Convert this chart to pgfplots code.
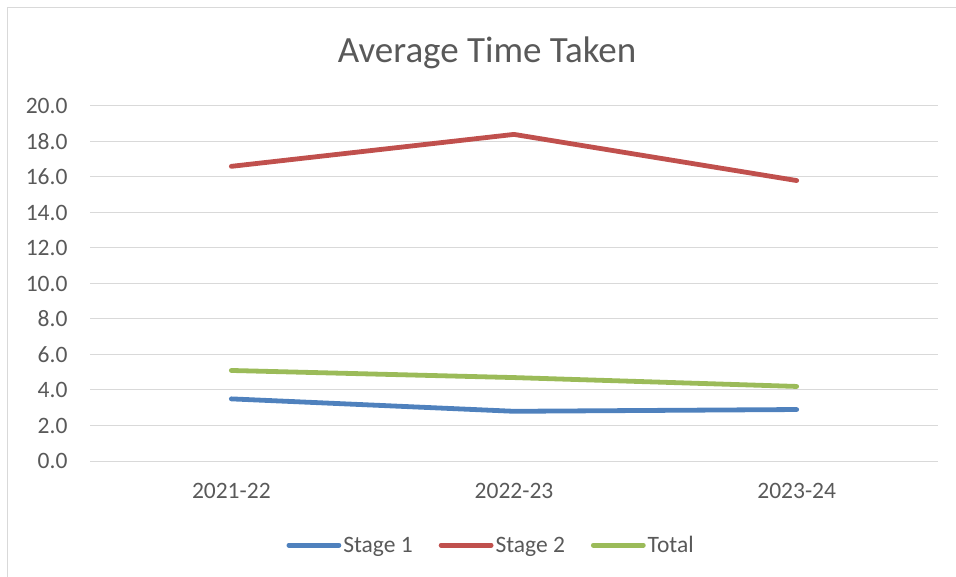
\documentclass[border=0pt]{standalone}
\usepackage{fontspec}
\setmainfont{Carlito}
\usepackage{pgfplots}
\pgfplotsset{compat=1.18}
\definecolor{sOne}{HTML}{4F81BD}
\definecolor{sTwo}{HTML}{C0504D}
\definecolor{sTot}{HTML}{9BBB59}
\definecolor{txt}{HTML}{595959}
\definecolor{grd}{HTML}{D9D9D9}
\begin{document}
\begin{tikzpicture}
\useasboundingbox (0,0) rectangle (956bp,577bp);
\draw[grd, line width=1.2bp] (7.5bp,0) -- (7.5bp,569.5bp) -- (956bp,569.5bp);
\node[text=txt, font=\fontsize{37bp}{42bp}\selectfont] at (487bp,524bp) {Average Time Taken};
\begin{axis}[
  at={(90bp,116bp)}, anchor=south west,
  scale only axis, width=848bp, height=355bp,
  xmin=-0.5, xmax=2.5, ymin=0, ymax=20,
  xtick={0,1,2}, xticklabels={2021-22,2022-23,2023-24},
  ytick={0,2,...,20},
  yticklabel={\pgfmathprintnumber[fixed,fixed zerofill,precision=1]{\tick}},
  /pgf/number format/assume math mode=true,
  axis line style={draw=none},
  axis x line*=bottom,
  major tick length=0,
  ymajorgrids, grid style={grd, line width=1bp},
  tick label style={text=txt, font=\fontsize{23.5bp}{27bp}\selectfont},
  yticklabel style={xshift=-19bp},
  xticklabel style={yshift=-19bp},
  clip=false,
  legend columns=3,
  legend style={at={(0.473,-0.237)}, anchor=center, draw=none, fill=none,
    font=\fontsize{23.5bp}{27bp}\selectfont, text=txt,
    /tikz/every even column/.append style={column sep=24bp}},
  legend image code/.code={\draw[#1, line cap=round] (0bp,0bp) -- (50bp,0bp);},
  every axis plot/.append style={line width=4.8bp, line cap=round, line join=round, mark=none},
]
\addplot[sOne] coordinates {(0,3.5) (1,2.8) (2,2.9)};
\addplot[sTwo] coordinates {(0,16.6) (1,18.4) (2,15.8)};
\addplot[sTot] coordinates {(0,5.1) (1,4.7) (2,4.2)};
\legend{Stage 1, Stage 2, Total}
\draw[grd, line width=1bp] (rel axis cs:0,0) -- (rel axis cs:1,0);
\end{axis}
\end{tikzpicture}
\end{document}
